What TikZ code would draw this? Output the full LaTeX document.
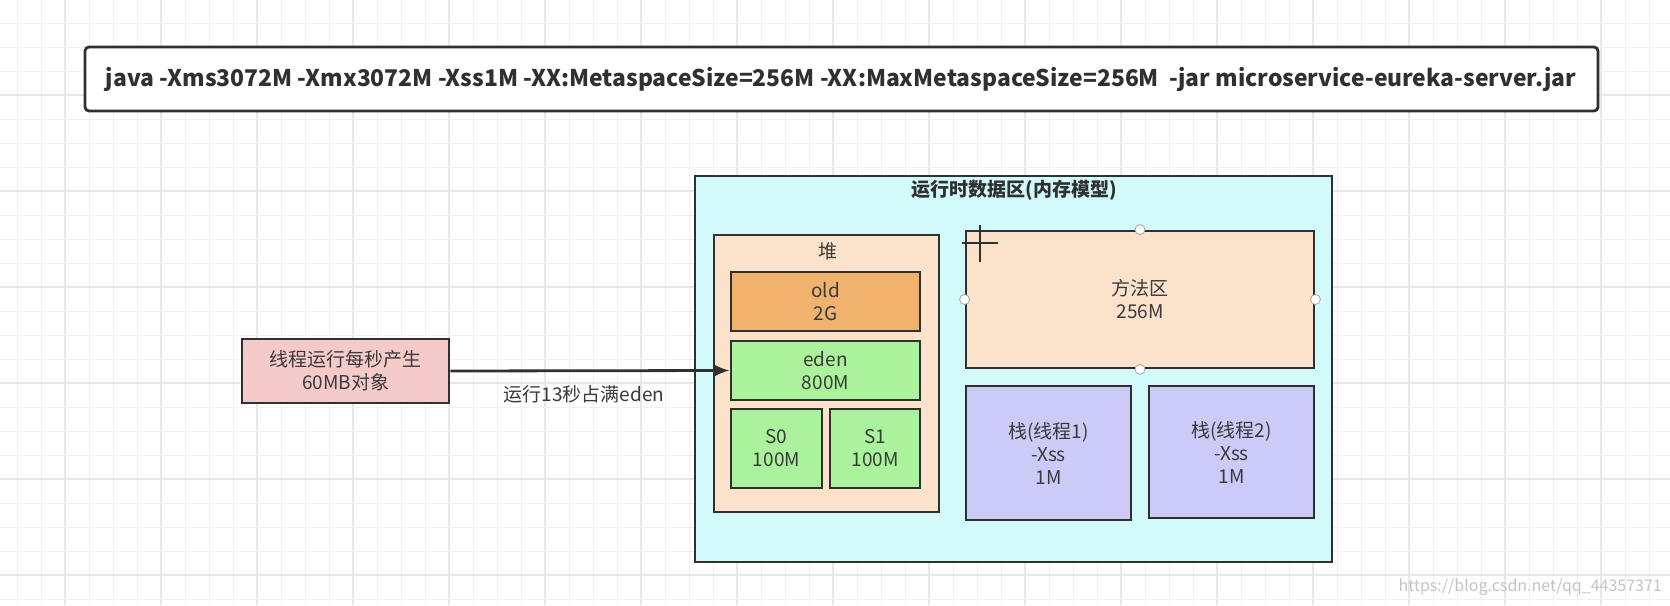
\documentclass[tikz,border=0pt]{standalone}
\usepackage{fontspec}
\setmainfont{Noto Sans CJK SC}
\usetikzlibrary{arrows.meta}
\definecolor{bordc}{HTML}{303030}
\definecolor{txtc}{HTML}{3A3A3A}
\definecolor{runc}{HTML}{D2FAFA}
\definecolor{peachc}{HTML}{FBE2CB}
\definecolor{oldc}{HTML}{F0B26C}
\definecolor{greenc}{HTML}{AAF39C}
\definecolor{stackc}{HTML}{CCCAF6}
\definecolor{threadc}{HTML}{F5CACA}
\definecolor{gridminor}{HTML}{F1F1F1}
\definecolor{gridmajor}{HTML}{E7E7E7}
\definecolor{markc}{HTML}{C4C4C4}
\tikzset{
  x=1pt, y=-1pt,
  box/.style={draw=bordc, line width=2.8pt, inner sep=0pt, text=txtc},
  lbl/.style={text=txtc, inner sep=0pt, align=center, font=\fontsize{19}{23}\selectfont},
  handle/.style={circle, draw=gray!70, fill=white, line width=0.8pt, minimum size=10pt, inner sep=0pt},
}
\begin{document}
\begin{tikzpicture}
\useasboundingbox (0,0) rectangle (1670,605);
\fill[white] (0,0) rectangle (1670,605);
% grid
\foreach \k in {0,...,69} {
  \pgfmathtruncatemacro{\xx}{17+24*\k}
  \pgfmathtruncatemacro{\mm}{mod(\xx+31,96)}
  \ifnum\mm=0
    \draw[gridmajor, line width=1.2pt] (\xx,0) -- (\xx,605);
  \else
    \draw[gridminor, line width=1pt] (\xx,0) -- (\xx,605);
  \fi
}
\foreach \k in {0,...,25} {
  \pgfmathtruncatemacro{\yy}{-1+24*\k}
  \pgfmathtruncatemacro{\mm}{mod(\yy+1,96)}
  \ifnum\mm=0
    \draw[gridmajor, line width=1.2pt] (0,\yy) -- (1670,\yy);
  \else
    \draw[gridminor, line width=1pt] (0,\yy) -- (1670,\yy);
  \fi
}
% command box
\draw[box, fill=white, rounded corners=4pt] (85,47) rectangle (1598,111);
\node[text=bordc, inner sep=0pt] (cmd) at (841,79) {\resizebox{1470pt}{\height}{\fontsize{23}{27}\selectfont\bfseries java -Xms3072M -Xmx3072M -Xss1M -XX:MetaspaceSize=256M -XX:MaxMetaspaceSize=256M\ \ -jar microservice-eureka-server.jar}};
% runtime data area
\draw[box, fill=runc] (695,176) rectangle (1332,562);
\node[lbl, text=bordc, font=\fontsize{19}{23}\selectfont\bfseries] (runt) at (1014,190) {运行时数据区(内存模型)};
% heap
\draw[box, fill=peachc] (714,235) rectangle (939,512);
\node[lbl] (heapl) at (828,251) {堆};
\node[box, fill=oldc, minimum width=189pt, minimum height=59pt, lbl] (old) at (825.5,301.5) {old\\2G};
\node[box, fill=greenc, minimum width=189pt, minimum height=59pt, lbl] (eden) at (825.5,370.5) {eden\\800M};
\node[box, fill=greenc, minimum width=91pt, minimum height=79pt, lbl] (s0) at (776.5,448.5) {S0\\100M};
\node[box, fill=greenc, minimum width=90pt, minimum height=79pt, lbl] (s1) at (875,448.5) {S1\\100M};
% method area
\node[box, fill=peachc, minimum width=348pt, minimum height=137pt, lbl] (method) at (1140,299.5) {方法区\\256M};
\node[handle] (h1) at (method.north) {};
\node[handle] (h2) at (method.south) {};
\node[handle] (h3) at (method.west) {};
\node[handle] (h4) at (method.east) {};
\draw[bordc, line width=2.2pt] (980,225) -- (980,262);
\draw[bordc, line width=2.2pt] (962,243) -- (998,243);
% stacks
\node[box, fill=stackc, minimum width=165pt, minimum height=134pt, lbl] (st1) at (1048.5,453) {栈(线程1)\\-Xss\\1M};
\node[box, fill=stackc, minimum width=165pt, minimum height=132pt, lbl] (st2) at (1231.5,452) {栈(线程2)\\-Xss\\1M};
% thread box
\node[box, fill=threadc, minimum width=207pt, minimum height=64pt, lbl] (thread) at (345.5,371) {线程运行每秒产生\\60MB对象};
\draw[bordc, line width=2.8pt, -{Latex[length=16pt,width=13pt]}] (thread.east) -- (eden.west);
\node[lbl] (arrl) at (584,394) {运行13秒占满eden};
% watermark
\node[anchor=east, inner sep=0pt, text=markc, font=\fontsize{16}{19}\selectfont] (wm) at (1662,587) {https://blog.csdn.net/qq\_44357371};
\end{tikzpicture}
\end{document}
